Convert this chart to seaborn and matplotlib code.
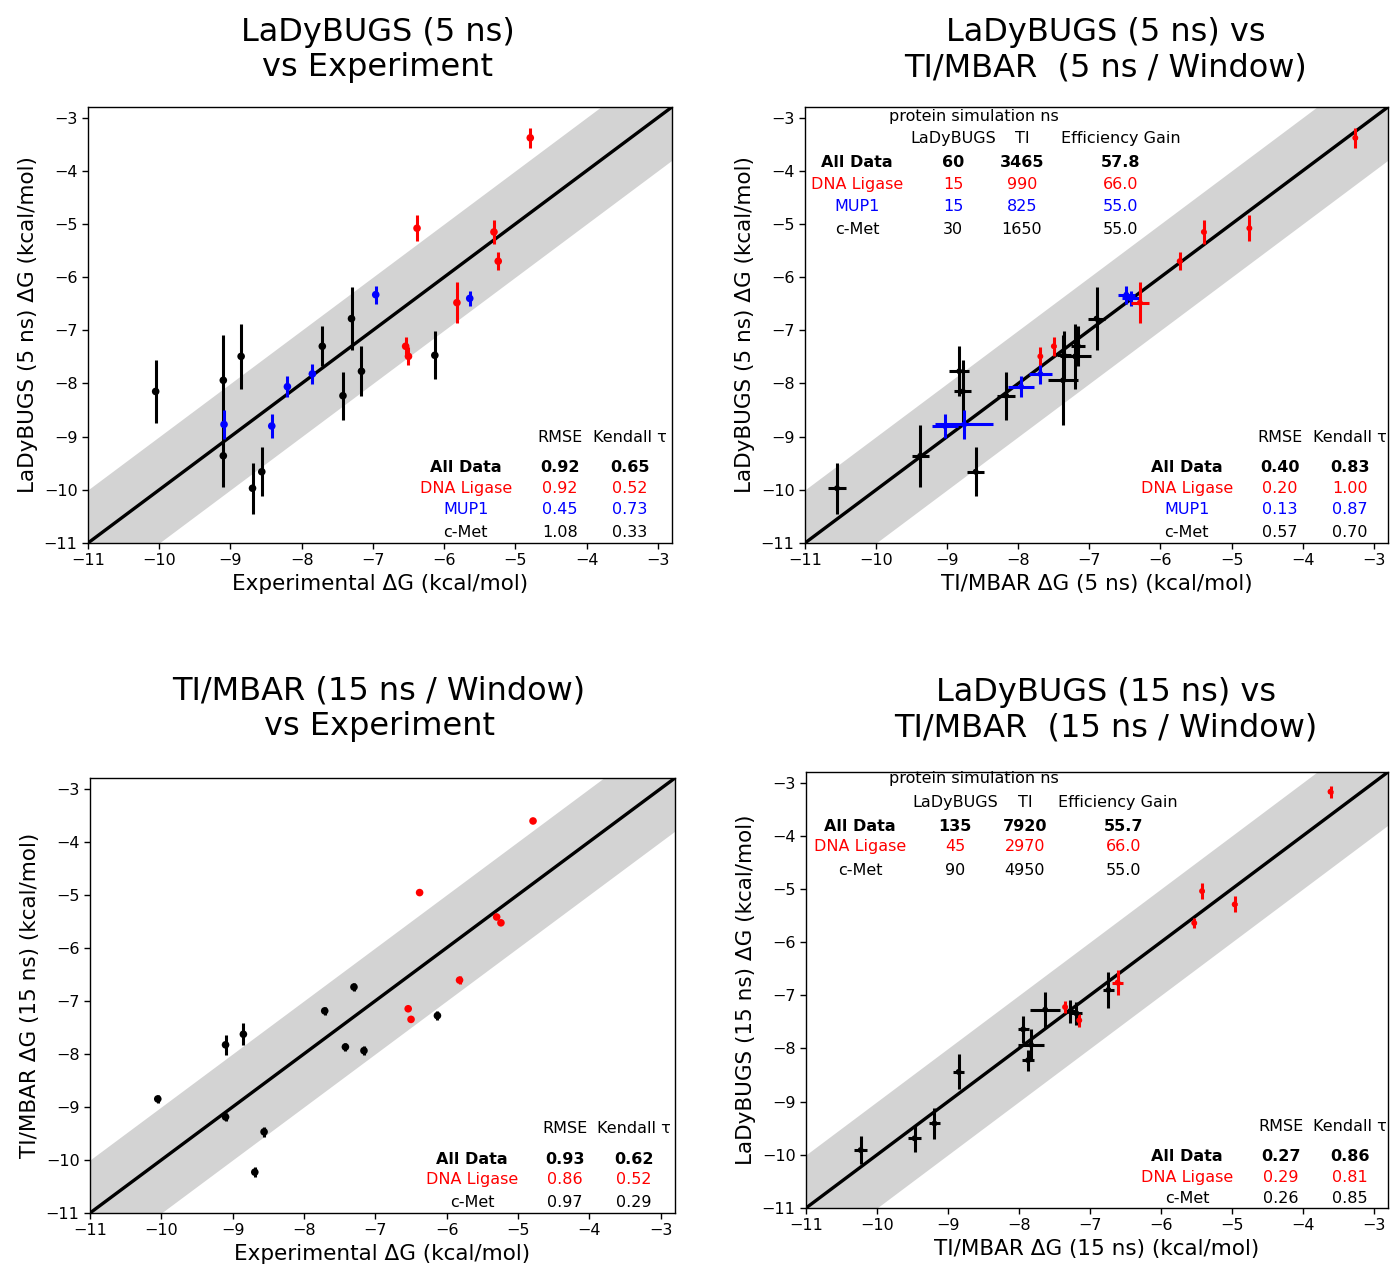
import numpy as np
import pandas as pd
import matplotlib
matplotlib.use("Agg")
import matplotlib.pyplot as plt
import seaborn as sns

# ---------------- data ----------------
# c-Met (11 ligands)
cmet_exp = [-10.05, -9.10, -9.10, -8.85, -8.69, -8.56, -7.71, -7.42, -7.30, -7.16, -6.13]
cmet_lady5 = [-8.15, -7.94, -9.36, -7.49, -9.97, -9.66, -7.30, -8.23, -6.78, -7.77, -7.47]
cmet_lady5_err = [0.60, 0.85, 0.58, 0.61, 0.48, 0.46, 0.38, 0.45, 0.59, 0.47, 0.45]
cmet_ti5 = [-8.78, -7.37, -9.38, -7.20, -10.55, -8.60, -7.16, -8.17, -6.90, -8.83, -7.36]
cmet_ti5_err = [0.12, 0.21, 0.12, 0.22, 0.13, 0.12, 0.10, 0.13, 0.12, 0.14, 0.10]
cmet_ti15 = [-8.85, -7.83, -9.19, -7.63, -10.23, -9.47, -7.19, -7.87, -6.74, -7.94, -7.28]
cmet_ti15_err = [0.08, 0.19, 0.08, 0.21, 0.09, 0.09, 0.08, 0.08, 0.08, 0.08, 0.08]
cmet_lady15 = [-8.44, -7.93, -9.41, -7.27, -9.91, -9.69, -7.34, -8.22, -6.90, -7.64, -7.30]
cmet_lady15_err = [0.33, 0.30, 0.30, 0.34, 0.26, 0.25, 0.22, 0.20, 0.33, 0.26, 0.22]

# DNA Ligase (7 ligands)
lig_exp = [-4.79, -6.38, -5.30, -5.24, -5.82, -6.54, -6.50]
lig_lady5 = [-3.38, -5.08, -5.15, -5.70, -6.48, -7.30, -7.49]
lig_lady5_err = [0.19, 0.24, 0.23, 0.17, 0.38, 0.18, 0.17]
lig_ti5 = [-3.26, -4.75, -5.39, -5.73, -6.29, -7.50, -7.69]
lig_ti5_err = [0.03, 0.03, 0.03, 0.03, 0.13, 0.03, 0.03]
lig_ti15 = [-3.61, -4.96, -5.42, -5.53, -6.61, -7.15, -7.35]
lig_ti15_err = [0.03, 0.03, 0.03, 0.03, 0.08, 0.03, 0.03]
lig_lady15 = [-3.17, -5.29, -5.04, -5.64, -6.76, -7.47, -7.22]
lig_lady15_err = [0.11, 0.15, 0.15, 0.10, 0.24, 0.12, 0.12]

# MUP1 (6 ligands)
mup_exp = [-9.09, -8.42, -8.20, -7.85, -6.96, -5.64]
mup_lady5 = [-8.77, -8.80, -8.06, -7.82, -6.33, -6.40]
mup_lady5_err = [0.28, 0.22, 0.20, 0.19, 0.17, 0.14]
mup_ti5 = [-8.76, -9.03, -7.96, -7.69, -6.48, -6.42]
mup_ti5_err = [0.41, 0.18, 0.18, 0.16, 0.12, 0.12]

# statistics tables
stat_rows_1 = ["All Data", "DNA Ligase", "MUP1", "c-Met"]
stat_rmse_1 = ["0.92", "0.92", "0.45", "1.08"]
stat_tau_1 = ["0.65", "0.52", "0.73", "0.33"]
stat_rmse_2 = ["0.40", "0.20", "0.13", "0.57"]
stat_tau_2 = ["0.83", "1.00", "0.87", "0.70"]
stat_rows_3 = ["All Data", "DNA Ligase", "c-Met"]
stat_rmse_3 = ["0.93", "0.86", "0.97"]
stat_tau_3 = ["0.62", "0.52", "0.29"]
stat_rmse_4 = ["0.27", "0.29", "0.26"]
stat_tau_4 = ["0.86", "0.81", "0.85"]

eff_lady_2 = ["60", "15", "15", "30"]
eff_ti_2 = ["3465", "990", "825", "1650"]
eff_gain_2 = ["57.8", "66.0", "55.0", "55.0"]
eff_lady_4 = ["135", "45", "90"]
eff_ti_4 = ["7920", "2970", "4950"]
eff_gain_4 = ["55.7", "66.0", "55.0"]

row_colors = {"All Data": "black", "DNA Ligase": "red", "MUP1": "blue", "c-Met": "black"}
palette = {"DNA Ligase": "red", "MUP1": "blue", "c-Met": "black"}

# ---------------- style ----------------
sns.set_theme(style="ticks")
plt.rcParams["font.family"] = ["DejaVu Sans"]
plt.rcParams["axes.edgecolor"] = "black"
plt.rcParams["xtick.color"] = "black"
plt.rcParams["ytick.color"] = "black"
plt.rcParams["text.color"] = "black"
plt.rcParams["axes.labelcolor"] = "black"
plt.rcParams["axes.linewidth"] = 1.0

fig = plt.figure(figsize=(13.9, 12.68), dpi=100)
W, H = 1390.0, 1268.0

def add_ax(l, r, t, b):
    return fig.add_axes([l / W, 1 - b / H, (r - l) / W, (b - t) / H])

ax1 = add_ax(88, 672, 107, 543)
ax2 = add_ax(805, 1388, 107, 543)
ax3 = add_ax(90, 675, 778, 1213)
ax4 = add_ax(806, 1388, 772, 1208)

LO, HI = -11.0, -2.8
TICK_FS = 11.5
LABEL_FS = 15.5
TAB_FS = 11.5


def base(ax):
    xs = np.array([LO, HI])
    ax.fill_between(xs, xs - 1, xs + 1, color="#d3d3d3", lw=0, zorder=0)
    sns.lineplot(x=xs, y=xs, ax=ax, color="black", lw=2.4, zorder=2)
    ax.set_xlim(LO, HI)
    ax.set_ylim(LO, HI)
    ax.set_xticks(range(-11, -2))
    ax.set_yticks(range(-11, -2))
    ax.tick_params(labelsize=TICK_FS, length=4, width=1, colors="black")


def draw(ax, groups, ms=30):
    frames = []
    for name, x, y, xe, ye in groups:
        ax.errorbar(x, y, xerr=xe, yerr=ye, fmt="none", ecolor=palette[name],
                    elinewidth=2.2, capsize=0, zorder=3)
        frames.append(pd.DataFrame({"x": x, "y": y, "target": name}))
    df = pd.concat(frames, ignore_index=True)
    sns.scatterplot(data=df, x="x", y="y", hue="target", palette=palette, ax=ax,
                    s=ms, edgecolor="none", legend=False, zorder=4)
    ax.set_xlabel("")
    ax.set_ylabel("")


def stats_table(ax, rows, rmse, tau, xs, ys, head_y):
    ax.text(xs[1], head_y, "RMSE", transform=ax.transAxes, ha="center", va="center",
            fontsize=TAB_FS, color="black")
    ax.text(xs[2], head_y, "Kendall \u03c4", transform=ax.transAxes, ha="center", va="center",
            fontsize=TAB_FS, color="black")
    for i, r in enumerate(rows):
        w = "bold" if r == "All Data" else "normal"
        c = row_colors[r]
        ax.text(xs[0], ys[i], r, transform=ax.transAxes, ha="center", va="center",
                fontsize=TAB_FS, color=c, fontweight=w)
        ax.text(xs[1], ys[i], rmse[i], transform=ax.transAxes, ha="center", va="center",
                fontsize=TAB_FS, color=c, fontweight=w)
        ax.text(xs[2], ys[i], tau[i], transform=ax.transAxes, ha="center", va="center",
                fontsize=TAB_FS, color=c, fontweight=w)


def eff_table(ax, rows, lady, ti, gain, xs, ys, top_y, head_y, gain_head_x):
    ax.text(0.289, top_y, "protein simulation ns", transform=ax.transAxes, ha="center",
            va="center", fontsize=TAB_FS)
    ax.text(xs[1], head_y, "LaDyBUGS", transform=ax.transAxes, ha="center", va="center",
            fontsize=TAB_FS)
    ax.text(xs[2], head_y, "TI", transform=ax.transAxes, ha="center", va="center",
            fontsize=TAB_FS)
    ax.text(gain_head_x, head_y, "Efficiency Gain", transform=ax.transAxes, ha="center",
            va="center", fontsize=TAB_FS)
    for i, r in enumerate(rows):
        w = "bold" if r == "All Data" else "normal"
        c = row_colors[r]
        for xx, t in zip(xs, [r, lady[i], ti[i], gain[i]]):
            ax.text(xx, ys[i], t, transform=ax.transAxes, ha="center", va="center",
                    fontsize=TAB_FS, color=c, fontweight=w)


# Panel 1: LaDyBUGS 5 ns vs experiment
base(ax1)
draw(ax1, [
    ("c-Met", cmet_exp, cmet_lady5, None, cmet_lady5_err),
    ("MUP1", mup_exp, mup_lady5, None, mup_lady5_err),
    ("DNA Ligase", lig_exp, lig_lady5, None, lig_lady5_err),
])
ax1.set_xlabel("Experimental \u0394G (kcal/mol)", fontsize=LABEL_FS)
ax1.set_ylabel("LaDyBUGS (5 ns) \u0394G (kcal/mol)", fontsize=LABEL_FS)
stats_table(ax1, stat_rows_1, stat_rmse_1, stat_tau_1,
            [0.647, 0.808, 0.928], [0.174, 0.126, 0.076, 0.025], 0.243)

# Panel 2: LaDyBUGS 5 ns vs TI/MBAR 5 ns
base(ax2)
draw(ax2, [
    ("c-Met", cmet_ti5, cmet_lady5, cmet_ti5_err, cmet_lady5_err),
    ("MUP1", mup_ti5, mup_lady5, mup_ti5_err, mup_lady5_err),
    ("DNA Ligase", lig_ti5, lig_lady5, lig_ti5_err, lig_lady5_err),
], ms=18)
ax2.set_xlabel("TI/MBAR \u0394G (5 ns) (kcal/mol)", fontsize=LABEL_FS)
ax2.set_ylabel("LaDyBUGS (5 ns) \u0394G (kcal/mol)", fontsize=LABEL_FS)
stats_table(ax2, stat_rows_1, stat_rmse_2, stat_tau_2,
            [0.655, 0.815, 0.935], [0.174, 0.126, 0.076, 0.025], 0.243)
eff_table(ax2, stat_rows_1, eff_lady_2, eff_ti_2, eff_gain_2,
          [0.089, 0.254, 0.372, 0.542], [0.872, 0.823, 0.771, 0.720], 0.979, 0.927, 0.542)

# Panel 3: TI/MBAR 15 ns vs experiment
base(ax3)
draw(ax3, [
    ("c-Met", cmet_exp, cmet_ti15, None, cmet_ti15_err),
    ("DNA Ligase", lig_exp, lig_ti15, None, lig_ti15_err),
])
ax3.set_xlabel("Experimental \u0394G (kcal/mol)", fontsize=LABEL_FS)
ax3.set_ylabel("TI/MBAR \u0394G (15 ns) (kcal/mol)", fontsize=LABEL_FS)
stats_table(ax3, stat_rows_3, stat_rmse_3, stat_tau_3,
            [0.653, 0.812, 0.930], [0.124, 0.076, 0.025], 0.195)

# Panel 4: LaDyBUGS 15 ns vs TI/MBAR 15 ns
base(ax4)
draw(ax4, [
    ("c-Met", cmet_ti15, cmet_lady15, cmet_ti15_err, cmet_lady15_err),
    ("DNA Ligase", lig_ti15, lig_lady15, lig_ti15_err, lig_lady15_err),
], ms=18)
ax4.set_xlabel("TI/MBAR \u0394G (15 ns) (kcal/mol)", fontsize=LABEL_FS)
ax4.set_ylabel("LaDyBUGS (15 ns) \u0394G (kcal/mol)", fontsize=LABEL_FS)
stats_table(ax4, stat_rows_3, stat_rmse_4, stat_tau_4,
            [0.655, 0.816, 0.935], [0.117, 0.071, 0.021], 0.188)
eff_table(ax4, stat_rows_3, eff_lady_4, eff_ti_4, eff_gain_4,
          [0.093, 0.256, 0.376, 0.545], [0.874, 0.828, 0.775], 0.984, 0.931, 0.536)

# Titles
TITLE_FS = 23
fig.text(378 / W, 1 - 50 / H, "LaDyBUGS (5 ns)\nvs Experiment", ha="center", va="center",
         fontsize=TITLE_FS, color="black")
fig.text(1106 / W, 1 - 50 / H, "LaDyBUGS (5 ns) vs\nTI/MBAR  (5 ns / Window)", ha="center",
         va="center", fontsize=TITLE_FS, color="black")
fig.text(379 / W, 1 - 708.5 / H, "TI/MBAR (15 ns / Window)\nvs Experiment", ha="center",
         va="center", fontsize=TITLE_FS, color="black")
fig.text(1106 / W, 1 - 710.5 / H, "LaDyBUGS (15 ns) vs\nTI/MBAR  (15 ns / Window)", ha="center",
         va="center", fontsize=TITLE_FS, color="black")

fig.savefig("out.png", dpi=100)
